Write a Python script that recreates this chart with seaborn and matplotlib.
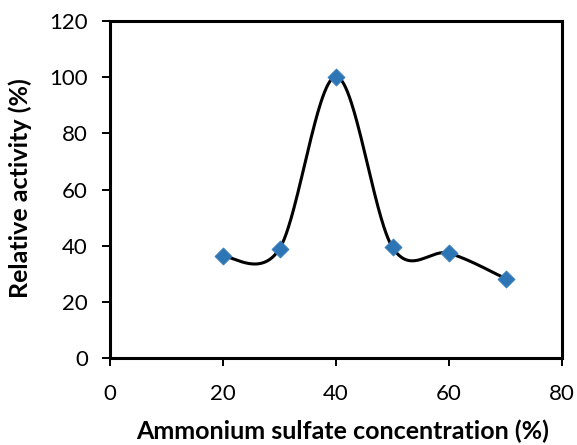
import numpy as np
import pandas as pd
import matplotlib
matplotlib.use("Agg")
import matplotlib.pyplot as plt
import seaborn as sns

# Data
concentration = [20, 30, 40, 50, 60, 70]
activity = [36.2, 38.9, 100.2, 39.4, 37.3, 28.3]
x_ticks = [0, 20, 40, 60, 80]
y_ticks = [0, 20, 40, 60, 80, 100, 120]
x_label = "Ammonium sulfate concentration (%)"
y_label = "Relative activity (%)"

sns.set_theme(style="white")
plt.rcParams['font.family'] = ['Lato', 'DejaVu Sans']


def smooth_curve(xs, ys, n=60):
    """Excel-like smoothed line (Catmull-Rom Bezier) through data points."""
    P = np.column_stack([xs, ys]).astype(float)
    out = []
    m = len(P)
    for i in range(m - 1):
        p0 = P[i - 1] if i > 0 else P[i]
        p1 = P[i]
        p2 = P[i + 1]
        p3 = P[i + 2] if i + 2 < m else P[i + 1]
        c1 = p1 + (p2 - p0) / 6.0
        c2 = p2 - (p3 - p1) / 6.0
        t = np.linspace(0, 1, n)[:, None]
        seg = ((1 - t) ** 3) * p1 + 3 * ((1 - t) ** 2) * t * c1 + 3 * (1 - t) * t ** 2 * c2 + t ** 3 * p2
        out.append(seg if i == 0 else seg[1:])
    return np.vstack(out)


df = pd.DataFrame({"x": concentration, "y": activity})
curve = smooth_curve(concentration, activity)
cdf = pd.DataFrame({"x": curve[:, 0], "y": curve[:, 1]})

fig = plt.figure(figsize=(5.77, 4.45), dpi=100)
ax = fig.add_axes([110 / 577, 87 / 445, 452 / 577, 337 / 445])

sns.lineplot(data=cdf, x="x", y="y", sort=False, color="black", linewidth=2.2, ax=ax)
sns.scatterplot(data=df, x="x", y="y", marker="D", s=75, color="#2E75B6",
                edgecolor="#3A7FC0", linewidth=0.6, zorder=5, ax=ax)

ax.set_xlim(0, 80)
ax.set_ylim(0, 120)
ax.set_xticks(x_ticks)
ax.set_yticks(y_ticks)
ax.tick_params(axis="both", direction="out", length=6, width=1.4, color="black",
               labelsize=16, labelcolor="black", pad=10, bottom=True, left=True)
ax.tick_params(axis="x", pad=13)

for s in ax.spines.values():
    s.set_color("black")
    s.set_linewidth(2.2)

ax.set_xlabel(x_label, fontsize=18, fontweight="bold", color="black")
ax.set_ylabel(y_label, fontsize=18, fontweight="bold", color="black")
ax.xaxis.set_label_coords(0.515, -0.184)
ax.yaxis.set_label_coords(-0.173, 0.504)
ax.grid(False)

fig.savefig("out.png", dpi=100, facecolor="white")
